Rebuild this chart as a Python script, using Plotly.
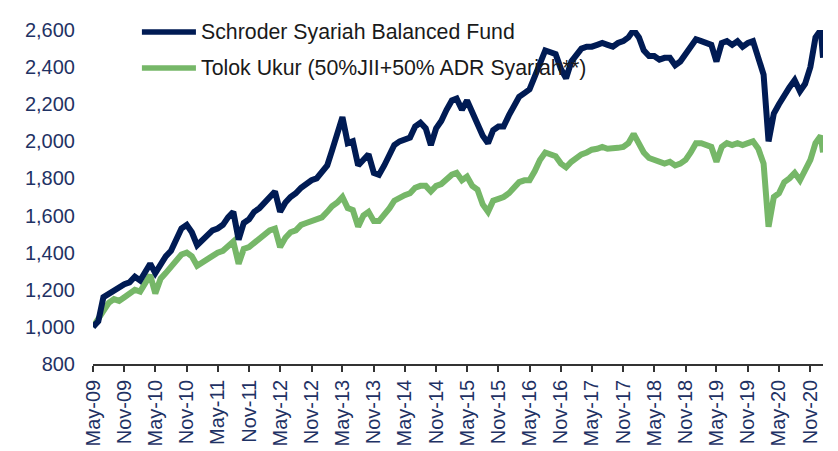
import pandas as pd
import plotly.graph_objects as go

# Monthly readings (first of month), May-2009 .. Jan-2021, plus final point
fund = [1000, 1030, 1160, 1180, 1200, 1210, 1230, 1240, 1270, 1250, 1300, 1340,
        1290, 1340, 1380, 1410, 1470, 1530, 1550, 1510, 1440, 1470, 1500, 1520,
        1530, 1550, 1590, 1620, 1470, 1560, 1580, 1620, 1640, 1670, 1700, 1730,
        1620, 1670, 1700, 1720, 1750, 1770, 1790, 1800, 1830, 1870, 1950, 2040,
        2130, 1990, 2000, 1870, 1900, 1930, 1830, 1820, 1870, 1920, 1980, 2000,
        2010, 2020, 2080, 2100, 2070, 1980, 2070, 2110, 2170, 2220, 2230, 2170,
        2220, 2150, 2100, 2030, 1990, 2060, 2080, 2080, 2140, 2200, 2240, 2260,
        2280, 2350, 2430, 2490, 2480, 2470, 2390, 2340, 2430, 2470, 2500, 2510,
        2510, 2520, 2530, 2520, 2510, 2530, 2540, 2560, 2600, 2560, 2490, 2460,
        2460, 2440, 2450, 2450, 2410, 2430, 2470, 2510, 2550, 2540, 2530, 2520,
        2430, 2530, 2540, 2520, 2540, 2510, 2530, 2540, 2450, 2360, 2000, 2150,
        2200, 2250, 2290, 2330, 2270, 2310, 2400, 2560, 2600, 2450]
bench = [1000, 1040, 1090, 1130, 1150, 1140, 1160, 1180, 1200, 1190, 1240, 1280,
         1180, 1260, 1290, 1320, 1360, 1390, 1400, 1380, 1330, 1350, 1370, 1390,
         1400, 1410, 1440, 1460, 1340, 1420, 1430, 1450, 1480, 1500, 1520, 1530,
         1430, 1480, 1510, 1520, 1550, 1560, 1570, 1575, 1590, 1620, 1650, 1670,
         1700, 1640, 1630, 1540, 1600, 1620, 1570, 1570, 1600, 1640, 1680, 1700,
         1710, 1720, 1750, 1760, 1760, 1730, 1760, 1770, 1800, 1820, 1830, 1790,
         1810, 1760, 1740, 1660, 1620, 1680, 1690, 1700, 1720, 1750, 1780, 1790,
         1790, 1840, 1900, 1940, 1930, 1920, 1880, 1860, 1890, 1910, 1930, 1940,
         1955, 1960, 1970, 1960, 1960, 1965, 1970, 1990, 2040, 1990, 1940, 1910,
         1900, 1890, 1880, 1890, 1870, 1880, 1900, 1940, 1990, 1990, 1980, 1970,
         1890, 1970, 1990, 1980, 1990, 1980, 1990, 2000, 1960, 1880, 1540, 1700,
         1720, 1780, 1800, 1830, 1790, 1840, 1900, 1990, 2030, 1940]
dates = list(pd.date_range("2009-05-01", periods=len(fund) - 1, freq="MS").strftime("%Y-%m-%d")) + ["2021-01-14"]

names = ["Schroder Syariah Balanced Fund", "Tolok Ukur (50%JII+50% ADR Syariah**)"]
colors = ["#001B54", "#76B768"]

fig = go.Figure()
fig.add_trace(go.Scatter(x=dates, y=bench, mode="lines", name=names[1],
                         line=dict(color=colors[1], width=6), showlegend=False))
fig.add_trace(go.Scatter(x=dates, y=fund, mode="lines", name=names[0],
                         line=dict(color=colors[0], width=6), showlegend=False))

font_family = "Liberation Sans, Arial, sans-serif"
tick_color = "#1F3264"

# custom legend (line swatches + text)
leg_y = [0.994, 0.886]
shapes = []
annotations = []
for i in range(2):
    shapes.append(dict(type="line", xref="paper", yref="paper",
                       x0=0.067, x1=0.141, y0=leg_y[i], y1=leg_y[i],
                       line=dict(color=colors[i], width=5.5), layer="below"))
    annotations.append(dict(xref="paper", yref="paper", x=0.145, y=leg_y[i],
                            xanchor="left", yanchor="middle", showarrow=False,
                            text=names[i], font=dict(size=21.3, color="#1a1a1a", family=font_family)))

fig.update_layout(
    width=830, height=443,
    margin=dict(l=85, r=15, t=22, b=87),
    paper_bgcolor="white", plot_bgcolor="white",
    font=dict(family=font_family),
    shapes=shapes, annotations=annotations,
    xaxis=dict(
        range=["2009-05-01", "2021-01-14"], automargin=False,
        tick0="2009-05-01", dtick="M6", tickformat="%b-%y",
        tickangle=-90, showgrid=False, zeroline=False,
        showline=True, linecolor="#333333", linewidth=1.5,
        ticks="outside", ticklen=6, tickwidth=1.5, tickcolor="#333333",
        tickfont=dict(size=20, color=tick_color, family=font_family),
    ),
    yaxis=dict(
        range=[800, 2600], dtick=200, tickformat=",d", automargin=False,
        showgrid=False, zeroline=False, showline=False, ticks="",
        ticklabelstandoff=17,
        tickfont=dict(size=20, color=tick_color, family=font_family),
    ),
)

fig.write_html("out.html")
